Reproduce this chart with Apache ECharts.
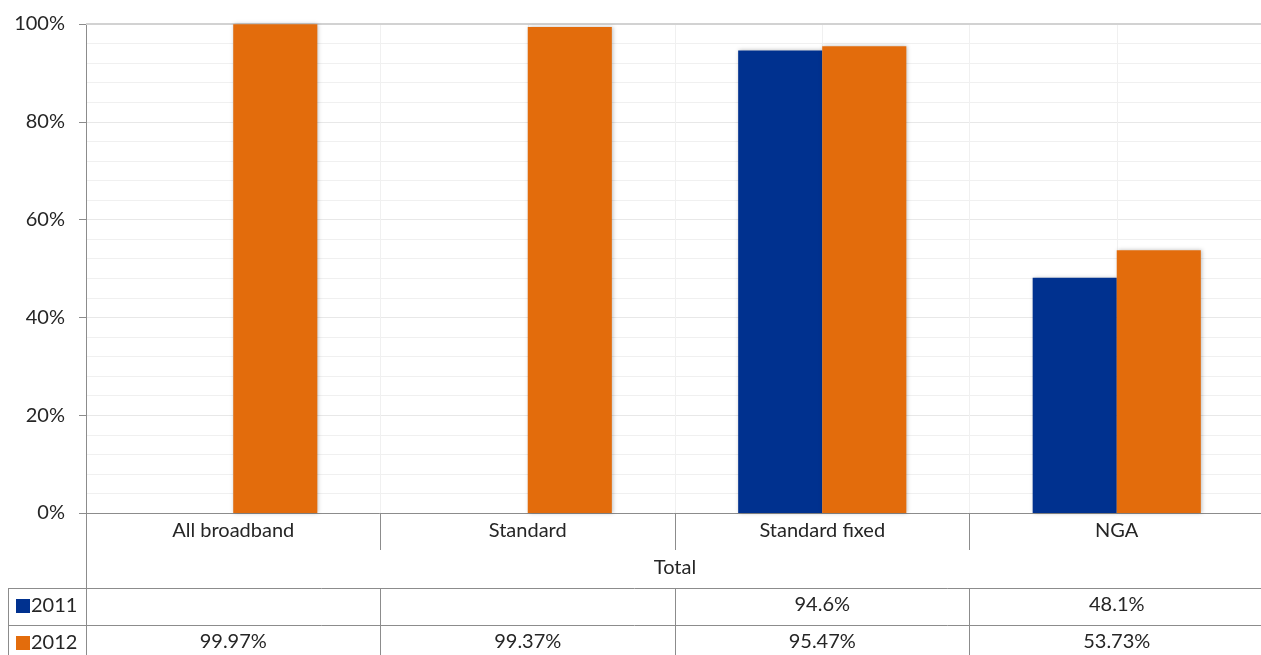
<!DOCTYPE html>
<html><head><meta charset="utf-8">
<script src="https://cdn.jsdelivr.net/npm/echarts@6/dist/echarts.min.js"></script>
<style>html,body{margin:0;padding:0;background:#fff}#c{width:1261px;height:655px}</style>
</head><body><div id="c"></div>
<script>
const categories = ['All broadband', 'Standard', 'Standard fixed', 'NGA'];
const seriesNames = ['2011', '2012'];
const values2011 = [null, null, 94.6, 48.1];
const values2012 = [99.97, 99.37, 95.47, 53.73];
const labels2011 = ['', '', '94.6%', '48.1%'];
const labels2012 = ['99.97%', '99.37%', '95.47%', '53.73%'];
const groupLabel = 'Total';
const yTicks = [0, 20, 40, 60, 80, 100];

const FONT = 'Lato';
const FS = 20;
const TXT = '#262626';
const BLUE = '#00318F';
const ORANGE = '#E36C0C';
const LINE = '#8c8c8c';

const chart = echarts.init(document.getElementById('c'), null, {renderer: 'canvas'});
const barShadow = {shadowColor: 'rgba(0,0,0,0.25)', shadowBlur: 4, shadowOffsetX: 1, shadowOffsetY: 0};

const tableAxis = (data, offset) => ({
  type: 'category', data: data, position: 'bottom', offset: offset, gridIndex: 0,
  axisLine: {show: false}, axisTick: {show: false}, splitLine: {show: false},
  axisLabel: {fontFamily: FONT, fontSize: FS, color: TXT, margin: 0, interval: 0,
    formatter: (v, i) => data[i]}
});

chart.setOption({
  animation: false,
  grid: {left: 86, width: 1178, top: 24, bottom: 142, containLabel: false, outerBoundsMode: 'none'},
  xAxis: [
    {
      type: 'category', data: categories,
      axisLine: {lineStyle: {color: LINE, width: 1}},
      axisTick: {show: true, length: 37, interval: 0, lineStyle: {color: LINE}},
      splitLine: {show: true, interval: 0, lineStyle: {color: '#ececec'}},
      axisLabel: {fontFamily: FONT, fontSize: FS, color: TXT, margin: 8, interval: 0}
    },
    tableAxis(labels2011, 82),
    tableAxis(labels2012, 119),
    {
      type: 'value', min: 0, max: categories.length * 2, interval: 1, show: true,
      axisLine: {show: false}, axisTick: {show: false}, axisLabel: {show: false},
      splitLine: {show: true, lineStyle: {color: '#f0f0f0'}}
    }
  ],
  yAxis: {
    type: 'value', min: yTicks[0], max: yTicks[yTicks.length - 1], interval: 20,
    axisLine: {show: true, lineStyle: {color: LINE}},
    axisTick: {show: true, inside: false, length: 7, lineStyle: {color: LINE}},
    axisLabel: {fontFamily: FONT, fontSize: FS, color: TXT, margin: 21, formatter: v => v + '%'},
    splitLine: {show: true, lineStyle: {color: '#e8e8e8'}},
    minorTick: {show: false, splitNumber: 5},
    minorSplitLine: {show: true, lineStyle: {color: '#f0f0f0'}}
  },
  series: [
    {name: seriesNames[0], type: 'bar', data: values2011, xAxisIndex: 0, barGap: '0%', barCategoryGap: '42.9%',
     itemStyle: Object.assign({color: BLUE}, barShadow), z: 3},
    {name: seriesNames[1], type: 'bar', data: values2012, xAxisIndex: 0, barGap: '0%', barCategoryGap: '42.9%',
     itemStyle: Object.assign({color: ORANGE}, barShadow), z: 3}
  ],
  graphic: [
    {type: 'line', shape: {x1: 86, y1: 24, x2: 1261, y2: 24}, style: {stroke: '#d2d2d2', lineWidth: 2}, z: 1},
    {type: 'text', x: 675, y: 568, style: {text: groupLabel, font: FS + 'px ' + FONT, fill: TXT, align: 'center', verticalAlign: 'middle'}},
    // table lines
    {type: 'line', shape: {x1: 8, y1: 588.5, x2: 1261, y2: 588.5}, style: {stroke: LINE, lineWidth: 1}},
    {type: 'line', shape: {x1: 8, y1: 625.5, x2: 1261, y2: 625.5}, style: {stroke: LINE, lineWidth: 1}},
    {type: 'line', shape: {x1: 8.5, y1: 588, x2: 8.5, y2: 655}, style: {stroke: LINE, lineWidth: 1}},
    {type: 'line', shape: {x1: 86.5, y1: 513, x2: 86.5, y2: 655}, style: {stroke: LINE, lineWidth: 1}},
    {type: 'line', shape: {x1: 380.5, y1: 588, x2: 380.5, y2: 655}, style: {stroke: LINE, lineWidth: 1}},
    {type: 'line', shape: {x1: 675.5, y1: 588, x2: 675.5, y2: 655}, style: {stroke: LINE, lineWidth: 1}},
    {type: 'line', shape: {x1: 969.5, y1: 588, x2: 969.5, y2: 655}, style: {stroke: LINE, lineWidth: 1}},
    // legend keys
    {type: 'rect', shape: {x: 16, y: 599, width: 14, height: 14}, style: {fill: BLUE}},
    {type: 'text', x: 31, y: 606, style: {text: seriesNames[0], font: FS + 'px ' + FONT, fill: TXT, verticalAlign: 'middle'}},
    {type: 'rect', shape: {x: 16, y: 636, width: 14, height: 14}, style: {fill: ORANGE}},
    {type: 'text', x: 31, y: 643, style: {text: seriesNames[1], font: FS + 'px ' + FONT, fill: TXT, verticalAlign: 'middle'}}
  ]
});
</script></body></html>
